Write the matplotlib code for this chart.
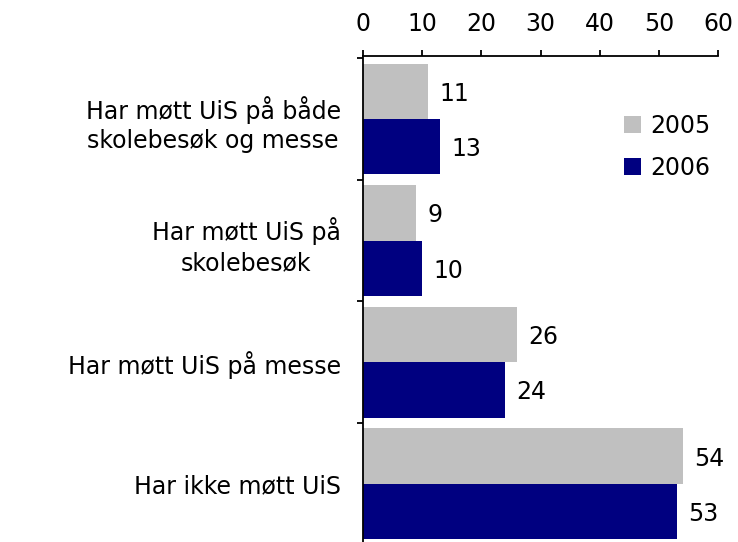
import matplotlib
matplotlib.use("Agg")
import matplotlib.pyplot as plt
import numpy as np

categories = [
    "Har møtt UiS på både\nskolebesøk og messe",
    "Har møtt UiS på\nskolebesøk",
    "Har møtt UiS på messe",
    "Har ikke møtt UiS",
]
values_2005 = [11, 9, 26, 54]
values_2006 = [13, 10, 24, 53]
series_labels = ["2005", "2006"]
xticks = [0, 10, 20, 30, 40, 50, 60]

GRAY = "#c0c0c0"
NAVY = "#000080"
FS = 17

fig = plt.figure(figsize=(7.38, 5.42), dpi=100)
ax = fig.add_axes([363 / 738, (542 - 544.5) / 542, 355 / 738, (544.5 - 56) / 542])

y = np.arange(len(categories))
h = 0.455
b1 = ax.barh(y - h / 2, values_2005, height=h, color=GRAY, label=series_labels[0])
b2 = ax.barh(y + h / 2, values_2006, height=h, color=NAVY, label=series_labels[1])

for bars, vals in ((b1, values_2005), (b2, values_2006)):
    for bar, v in zip(bars, vals):
        ax.text(bar.get_width() + 1.9, bar.get_y() + bar.get_height() / 2 + 0.02, str(v),
                ha="left", va="center", fontsize=FS)

ax.set_xlim(0, 60)
ax.set_ylim(3.5, -0.52)

ax.xaxis.tick_top()
ax.set_xticks(xticks)
ax.set_xticklabels([str(t) for t in xticks], fontsize=FS)
ax.tick_params(axis="x", direction="out", length=4.5, width=1.3, pad=10)

# group separators as major ticks, labels as minor ticks at centers
ax.set_yticks(np.arange(len(categories) + 1) - 0.5)
ax.set_yticklabels([])
ax.set_yticks(y, minor=True)
ax.set_yticklabels(categories, minor=True, fontsize=FS)
for lbl in ax.get_yticklabels(minor=True):
    lbl.set_multialignment("center")
    lbl.set_linespacing(1.3)
ax.tick_params(axis="y", which="major", direction="out", length=4.5, width=1.3)
ax.tick_params(axis="y", which="minor", length=0, pad=16)

for side in ("right", "bottom"):
    ax.spines[side].set_visible(False)
for side in ("top", "left"):
    ax.spines[side].set_linewidth(1.3)

ax.legend(loc="upper right", bbox_to_anchor=(1.04, 0.925), frameon=False, fontsize=FS,
          handlelength=0.75, handleheight=0.75, handletextpad=0.4, labelspacing=0.75)

fig.savefig("out.png", dpi=100)
